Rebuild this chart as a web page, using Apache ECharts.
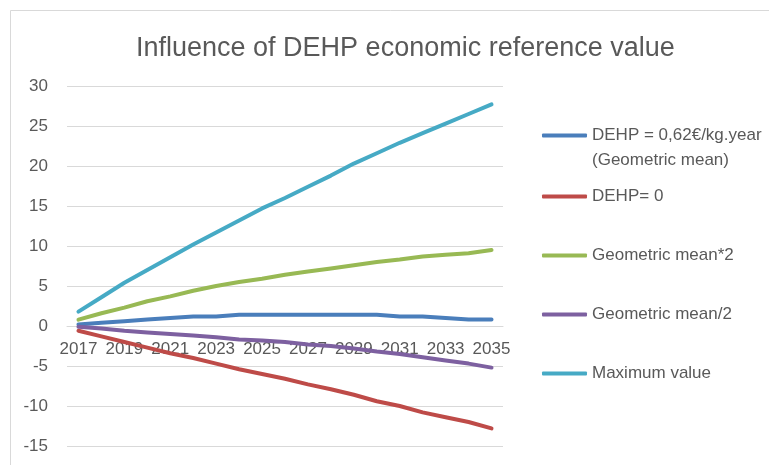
<!DOCTYPE html>
<html>
<head>
<meta charset="utf-8">
<script src="https://cdn.jsdelivr.net/npm/echarts@6/dist/echarts.min.js"></script>
<style>
  html, body { margin: 0; padding: 0; background: #fff; }
  #chart { width: 769px; height: 465px; }
</style>
</head>
<body>
<div id="chart"></div>
<script>
const years = ['2017', '2018', '2019', '2020', '2021', '2022', '2023', '2024', '2025', '2026',
  '2027', '2028', '2029', '2030', '2031', '2032', '2033', '2034', '2035'];

const geoMean = [0.2, 0.4, 0.6, 0.8, 1.0, 1.2, 1.2, 1.4, 1.4, 1.4, 1.4, 1.4, 1.4, 1.4, 1.2, 1.2, 1.0, 0.8, 0.8];
const dehpZero = [-0.6, -1.3, -2.0, -2.7, -3.4, -4.0, -4.7, -5.4, -6.0, -6.6, -7.3, -7.9, -8.6, -9.4, -10.0, -10.8, -11.4, -12.0, -12.8];
const geoMeanX2 = [0.8, 1.6, 2.3, 3.1, 3.7, 4.4, 5.0, 5.5, 5.9, 6.4, 6.8, 7.2, 7.6, 8.0, 8.3, 8.7, 8.9, 9.1, 9.5];
const geoMeanHalf = [-0.1, -0.3, -0.6, -0.8, -1.0, -1.2, -1.4, -1.7, -1.8, -2.0, -2.3, -2.5, -2.8, -3.2, -3.5, -3.9, -4.3, -4.7, -5.2];
const maxValue = [1.8, 3.6, 5.4, 7.0, 8.6, 10.2, 11.7, 13.2, 14.7, 16.0, 17.4, 18.8, 20.3, 21.6, 22.9, 24.1, 25.3, 26.5, 27.7];

const seriesNames = ['DEHP = 0,62€/kg.year\n(Geometric mean)', 'DEHP= 0', 'Geometric mean*2', 'Geometric mean/2', 'Maximum value'];
const seriesData = [geoMean, dehpZero, geoMeanX2, geoMeanHalf, maxValue];
const colors = ['#4a7ebb', '#be4b48', '#98b954', '#7d60a0', '#46aac5'];
const legendTops = [98, 184, 243, 302, 361];

const textColor = '#595959';
const font = 'Liberation Sans';

const chart = echarts.init(document.getElementById('chart'));

// one legend per entry so each row sits where the reference puts it
const legends = seriesNames.map((name, i) => ({
  data: [name],
  orient: 'vertical',
  left: 542,
  top: legendTops[i],
  padding: 0,
  icon: 'roundRect',
  itemWidth: 45,
  itemHeight: 4,
  selectedMode: false,
  // blank first line keeps the icon level with the first text line
  formatter: i === 0 ? (n => '\u00a0\n' + n) : '{name}',
  textStyle: {
    color: textColor,
    fontFamily: font,
    fontSize: 17,
    lineHeight: 25
  }
}));

const option = {
  backgroundColor: '#fff',
  color: colors,
  animation: false,
  title: {
    text: 'Influence of DEHP economic reference value',
    left: 131,
    top: 30,
    textStyle: {
      color: textColor,
      fontFamily: font,
      fontSize: 27,
      fontWeight: 'normal'
    }
  },
  graphic: [{
    type: 'rect',
    shape: { x: 10.5, y: 10.5, width: 770, height: 470 },
    style: { fill: 'none', stroke: '#d9d9d9', lineWidth: 1 },
    silent: true
  }],
  legend: legends,
  grid: {
    left: 67,
    right: 266,
    top: 86,
    bottom: 19,
    outerBoundsMode: 'none'
  },
  xAxis: {
    type: 'category',
    data: years,
    boundaryGap: true,
    // axis sits on the zero line (120px above the grid bottom)
    offset: -120,
    axisLine: { onZero: false, lineStyle: { color: '#d9d9d9', width: 1 } },
    axisTick: { show: false },
    axisLabel: {
      interval: 1,
      margin: 15,
      color: textColor,
      fontFamily: font,
      fontSize: 17
    }
  },
  yAxis: {
    type: 'value',
    min: -15,
    max: 30,
    interval: 5,
    axisLine: { show: false },
    axisTick: { show: false },
    axisLabel: {
      margin: 19,
      color: textColor,
      fontFamily: font,
      fontSize: 17
    },
    splitLine: { lineStyle: { color: '#d9d9d9', width: 1 } }
  },
  series: seriesNames.map((name, i) => ({
    name: name,
    type: 'line',
    data: seriesData[i],
    symbol: 'none',
    lineStyle: { width: 4, color: colors[i], cap: 'round', join: 'round' },
    itemStyle: { color: colors[i] }
  }))
};

chart.setOption(option);
</script>
</body>
</html>
